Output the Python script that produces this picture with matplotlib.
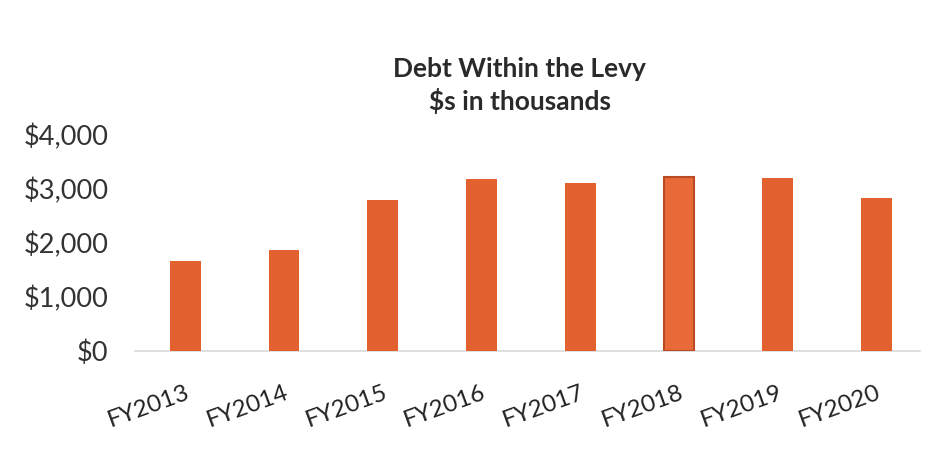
#!/usr/bin/env python3
import matplotlib
matplotlib.use('Agg')
import matplotlib.pyplot as plt
from matplotlib.ticker import FuncFormatter

years = ['FY2013', 'FY2014', 'FY2015', 'FY2016', 'FY2017', 'FY2018', 'FY2019', 'FY2020']
debt = [1670, 1870, 2800, 3180, 3120, 3230, 3200, 2830]   # $ thousands
yticks = [0, 1000, 2000, 3000, 4000]

plt.rcParams['font.family'] = ['Lato', 'DejaVu Sans']

fig = plt.figure(figsize=(9.4, 4.49), dpi=100)
ax = fig.add_axes([0.1436, 0.218, 0.835, 0.481])

x = range(len(years))
bars = ax.bar(x, debt, width=0.31, color='#E2612E', zorder=3)
# FY2018 bar looks selected in the source: darker outline
bars[5].set_edgecolor('#B94A22')
bars[5].set_linewidth(1.5)
bars[5].set_facecolor('#E86A38')

ax.set_xlim(-0.51, 7.44)
ax.set_ylim(0, 4000)
ax.set_yticks(yticks)
ax.yaxis.set_major_formatter(FuncFormatter(lambda v, p: '${:,.0f}'.format(v)))
ax.tick_params(axis='y', length=0, labelsize=19.5, labelcolor='#333333', pad=19)
ax.set_xticks(list(x))
ax.set_xticklabels(years, rotation=20, ha='right', rotation_mode='anchor',
                   fontsize=17.5, color='#222222')
ax.tick_params(axis='x', length=0, pad=22)

for s in ['top', 'right', 'left']:
    ax.spines[s].set_visible(False)
ax.spines['bottom'].set_color('#d9d9d9')
ax.spines['bottom'].set_linewidth(1.2)

fig.text(0.553, 0.81, 'Debt Within the Levy\n$s in thousands', ha='center', va='center',
         fontsize=19, fontweight='bold', color='#2a2a2a', linespacing=1.3)

fig.savefig('out.png', dpi=100)
